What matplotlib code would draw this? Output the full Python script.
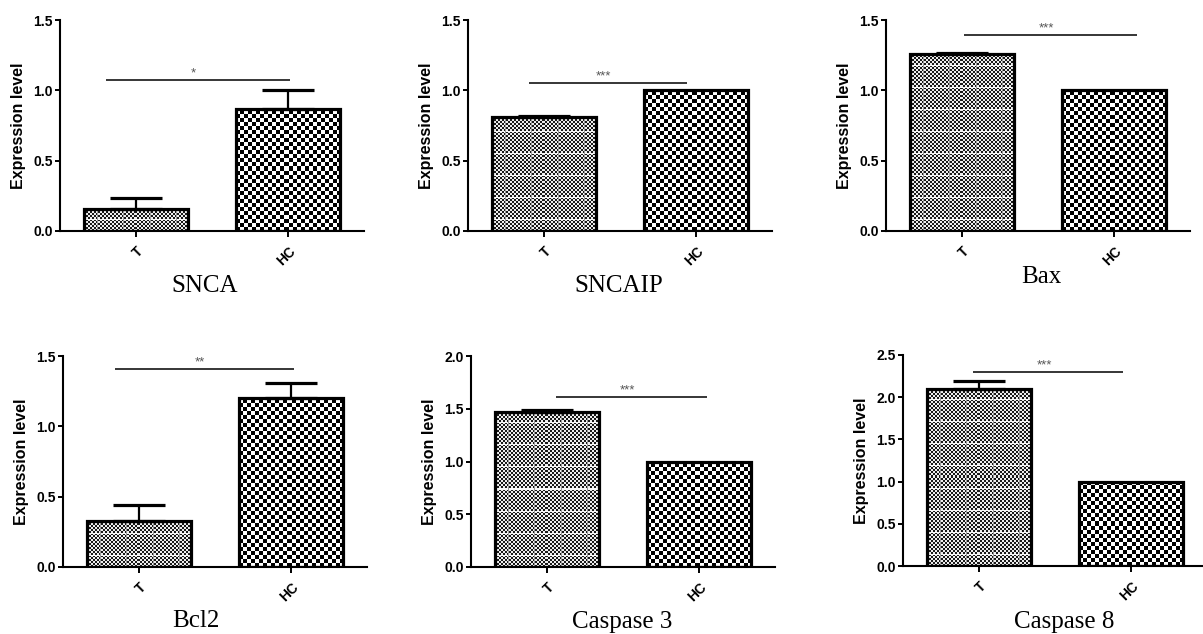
import numpy as np
import matplotlib
matplotlib.use("Agg")
import matplotlib.pyplot as plt
from matplotlib.ticker import FormatStrFormatter

# --- data ------------------------------------------------------------------
genes = ["SNCA", "SNCAIP", "Bax", "Bcl2", "Caspase 3", "Caspase 8"]
groups = ["T", "HC"]
t_mean = [0.155, 0.81, 1.255, 0.325, 1.47, 2.10]
t_err = [0.08, 0.01, 0.012, 0.115, 0.02, 0.09]
hc_mean = [0.87, 1.00, 1.00, 1.20, 1.00, 1.00]
hc_err = [0.13, 0.0, 0.0, 0.11, 0.0, 0.0]
y_top = [1.5, 1.5, 1.5, 1.5, 2.0, 2.5]
sig_labels = ["*", "***", "***", "**", "***", "***"]
sig_y = [1.07, 1.05, 1.39, 1.41, 1.61, 2.30]
sig_x0 = [-0.20, -0.10, 0.01, -0.16, 0.06, -0.04]
sig_x1 = [1.01, 0.94, 1.15, 1.02, 1.05, 0.95]

# --- layout (pixels of the 1203x634 canvas) --------------------------------
W, H = 1203, 634
AX_LEFT = [60, 468, 886, 63, 471, 903]
AX_ZERO = [231, 231, 231, 567, 567, 566]
AX_H = 211
STEP = 152          # px between the T and HC ticks
BAR_W = 0.68
TITLE_XY = [(205, 286), (619, 286), (1041, 277), (196, 621), (622, 622), (1064, 622)]

SANS = ["Liberation Sans", "DejaVu Sans"]
SERIF = ["Liberation Serif", "DejaVu Serif"]
plt.rcParams["font.family"] = SANS


def texture(h, w, kind):
    """Pixel pattern that fills a bar: fine checker with light bands for T,
    a coarser black/white checker for HC."""
    yy, xx = np.mgrid[0:h, 0:w]
    if kind == "T":
        img = np.where((yy // 2 + xx // 2) % 2, 0.93, 0.1)
        img[(np.arange(h) % 22) == 11, :] = 0.97
        img[:, (np.arange(w) % 26) == 13] = 0.6
    else:
        img = np.where((yy // 4 + xx // 4) % 2, 1.0, 0.0)
    return img


fig = plt.figure(figsize=(W / 100, H / 100), dpi=100)

for i, gene in enumerate(genes):
    width_px = min(2 * STEP, W - 1 - AX_LEFT[i])
    ax = fig.add_axes([AX_LEFT[i] / W, (H - AX_ZERO[i]) / H, width_px / W, AX_H / H])
    xr = -0.5 + width_px / STEP
    means = [t_mean[i], hc_mean[i]]
    errs = [t_err[i], hc_err[i]]
    x = np.arange(len(groups))

    ax.bar(x, means, width=BAR_W, facecolor="none", edgecolor="black",
           linewidth=2.3, zorder=3)
    for xi, m, kind in zip(x, means, groups):
        h_px = max(int(round(m / y_top[i] * AX_H)), 1)
        w_px = int(round(BAR_W * STEP))
        ax.imshow(texture(h_px, w_px, kind), cmap="gray", vmin=0, vmax=1,
                  origin="lower", interpolation="nearest", aspect="auto",
                  extent=(xi - BAR_W / 2, xi + BAR_W / 2, 0, m), zorder=2)
    for xi, m, e in zip(x, means, errs):
        if e > 0:
            ax.errorbar(xi, m, yerr=[[0], [e]], fmt="none", ecolor="black",
                        elinewidth=1.6, capsize=19, capthick=2.3, zorder=4)

    # significance bar
    ax.plot([sig_x0[i], sig_x1[i]], [sig_y[i], sig_y[i]], color="black",
            linewidth=1.1, solid_capstyle="butt", zorder=4, clip_on=False)
    ax.annotate(sig_labels[i], ((sig_x0[i] + sig_x1[i]) / 2, sig_y[i]),
                xytext=(-3, 0.5), textcoords="offset points", ha="center",
                va="bottom", fontsize=9.5, color="#555555", annotation_clip=False)

    ax.set_xlim(-0.5, xr)
    ax.set_ylim(0, y_top[i])
    ax.set_yticks(np.arange(0, y_top[i] + 0.01, 0.5))
    ax.yaxis.set_major_formatter(FormatStrFormatter("%.1f"))
    ax.set_xticks(x)
    ax.set_xticklabels(groups)
    plt.setp(ax.get_xticklabels(), rotation=45, ha="right", va="top",
             rotation_mode="anchor", fontweight="bold", fontsize=10)
    plt.setp(ax.get_yticklabels(), fontweight="bold", fontsize=10)
    ax.tick_params(axis="y", length=3.5, width=1.4, pad=1.5)
    ax.tick_params(axis="x", length=4.5, width=1.4, pad=5)
    for side in ("top", "right"):
        ax.spines[side].set_visible(False)
    for side in ("left", "bottom"):
        ax.spines[side].set_linewidth(1.5)

    ax.set_ylabel("Expression level", fontsize=11.5, fontweight="bold")
    ax.yaxis.set_label_coords(-34 / width_px, 0.5)

    tx, ty = TITLE_XY[i]
    fig.text(tx / W, 1 - ty / H, gene, ha="center", va="center",
             fontsize=18, family=SERIF)

fig.savefig("out.png", dpi=100)
